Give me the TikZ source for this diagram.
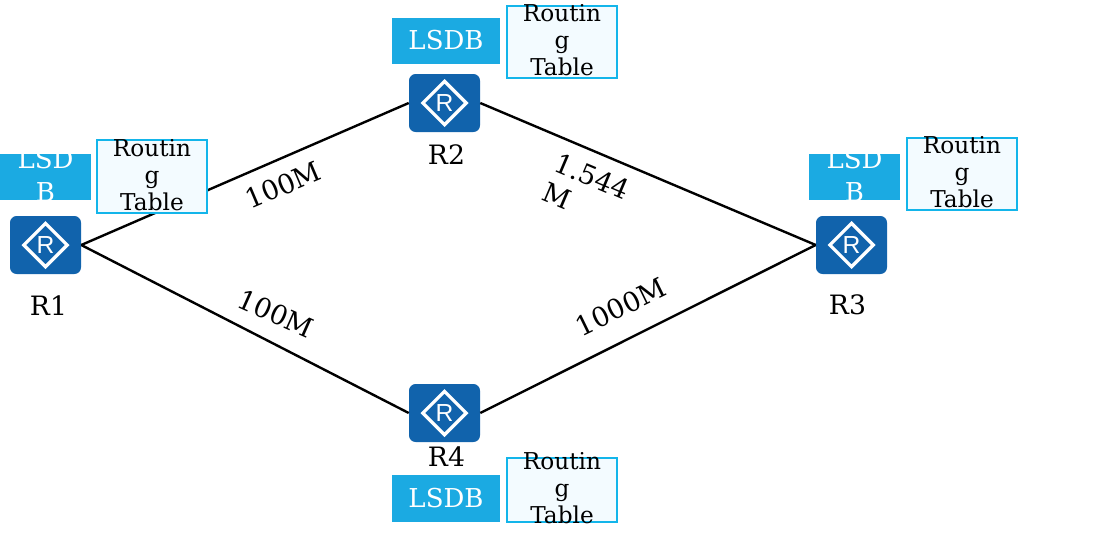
\documentclass[tikz,border=0pt]{standalone}
\usepackage{fontspec}
\setmainfont{DejaVu Serif}
\newfontfamily\iconfont{Liberation Sans}
\usetikzlibrary{positioning, shapes.geometric}
\definecolor{routerblue}{HTML}{1163AC}
\definecolor{lsdbblue}{HTML}{1BAAE2}
\definecolor{tableline}{HTML}{13B5EA}
\definecolor{tablefill}{HTML}{F3FBFF}
\newcommand{\tabletext}{\smash{\raisebox{-5.2pt}{\begin{tabular}[c]{@{}c@{}}Routin\\g\\Table\end{tabular}}}}
\newcommand{\lsdtext}{\smash{\raisebox{-6.8pt}{\begin{tabular}[c]{@{}c@{}}LSD\\[4.5pt]B\end{tabular}}}}

\begin{document}
\begin{tikzpicture}[x=0.75pt, y=-0.75pt,
    router/.style={rectangle, rounded corners=5pt, fill=routerblue, inner sep=0pt,
      minimum width=53.25pt, minimum height=43.5pt},
    rmark/.style={diamond, draw=white, line width=2.5pt, inner sep=0pt, aspect=1,
      minimum size=33.5pt, text=white, font=\iconfont\fontsize{18.5}{18.5}\selectfont},
    rlabel/.style={font=\fontsize{20}{23}\selectfont},
    lsdb/.style={fill=lsdbblue, text=white, inner sep=0pt, minimum height=34.5pt,
      font=\fontsize{19.5}{20.25}\selectfont},
    rtable/.style={draw=tableline, line width=1.5pt, fill=tablefill, inner sep=0pt,
      minimum width=82.5pt, font=\fontsize{17.4}{20.25}\selectfont},
    link/.style={line width=1.8pt},
    speed/.style={font=\fontsize{20.3}{20.25}\selectfont, inner sep=0pt}]

  \useasboundingbox (0,0) rectangle (1113,533);

  % routers
  \node[router] (R1) at (45.5,245) {};
  \node[router] (R2) at (444.5,103) {};
  \node[router] (R3) at (851.5,245) {};
  \node[router] (R4) at (444.5,413) {};
  \foreach \r in {R1,R2,R3,R4}
    \node[rmark] (\r mark) at (\r) {R};

  % links
  \draw[link] (R1.east) -- (R2.west);
  \draw[link] (R2.east) -- (R3.west);
  \draw[link] (R1.east) -- (R4.west);
  \draw[link] (R4.east) -- (R3.west);

  \node[rlabel] (R1 name) at (48.5,306) {R1};
  \node[rlabel] (R2 name) at (446.5,155) {R2};
  \node[rlabel] (R3 name) at (847.5,304.5) {R3};
  \node[rlabel] (R4 name) at (446.5,457) {R4};

  % LSDB and routing table
  \node[lsdb, minimum width=68.25pt] (L1) at (45.5,177) {\lsdtext};
  \node[rtable, minimum height=54.25pt] (T1) at (152,176.5) {\tabletext};
  \node[lsdb, minimum width=81pt] (L2) at (446,41) {\raisebox{1.5pt}{LSDB}};
  \node[rtable, minimum height=53.5pt] (T2) at (562,42) {\tabletext};
  \node[lsdb, minimum width=68.25pt] (L3) at (854.5,177) {\lsdtext};
  \node[rtable, minimum height=53.5pt] (T3) at (962,174) {\tabletext};
  \node[lsdb, minimum width=81pt, minimum height=35pt] (L4) at (446,498.5) {\raisebox{1.5pt}{LSDB}};
  \node[rtable, minimum height=47.5pt] (T4) at (562,490) {\tabletext};

  % link speeds
  \node[speed, rotate=23] (S12) at (283,185) {100M};
  \node[speed, rotate=-23, align=left] (S23) at (586,191) {1.544\\[3.75pt]M};
  \node[speed, rotate=-24] (S14) at (276,314) {100M};
  \node[speed, rotate=26] (S34) at (621,307) {1000M};
\end{tikzpicture}
\end{document}
